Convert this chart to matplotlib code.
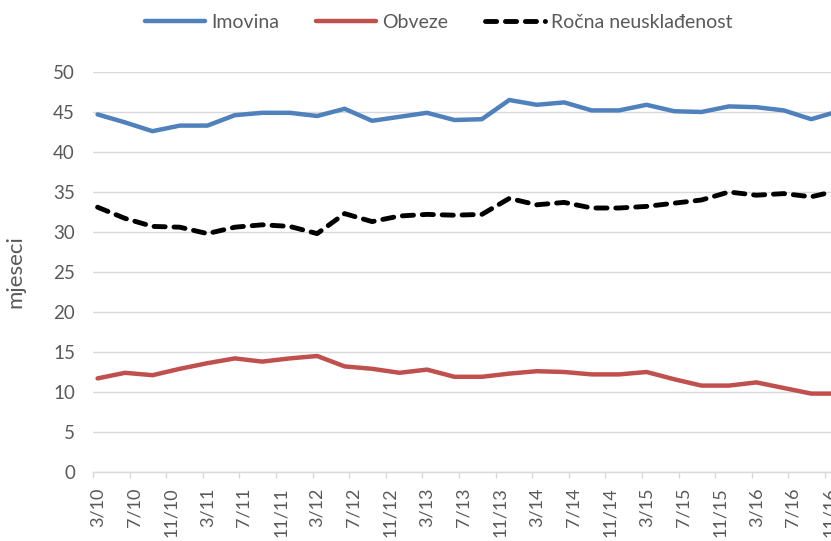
import matplotlib
matplotlib.use('Agg')
import matplotlib.pyplot as plt
from matplotlib.ticker import FixedLocator

plt.rcParams['font.family'] = ['Lato', 'DejaVu Sans']

# quarterly observations, 3/10 .. 12/16
quarters = ['3/10', '6/10', '9/10', '12/10', '3/11', '6/11', '9/11', '12/11',
            '3/12', '6/12', '9/12', '12/12', '3/13', '6/13', '9/13', '12/13',
            '3/14', '6/14', '9/14', '12/14', '3/15', '6/15', '9/15', '12/15',
            '3/16', '6/16', '9/16', '12/16']
imovina = [44.7, 43.7, 42.6, 43.3, 43.3, 44.6, 44.9, 44.9, 44.5, 45.4, 43.9, 44.4, 44.9, 44.0,
           44.1, 46.5, 45.9, 46.2, 45.2, 45.2, 45.9, 45.1, 45.0, 45.7, 45.6, 45.2, 44.1, 45.1]
obveze = [11.7, 12.4, 12.1, 12.9, 13.6, 14.2, 13.8, 14.2, 14.5, 13.2, 12.9, 12.4, 12.8, 11.9,
          11.9, 12.3, 12.6, 12.5, 12.2, 12.2, 12.5, 11.6, 10.8, 10.8, 11.2, 10.5, 9.8, 9.8]
rocna = [33.1, 31.7, 30.7, 30.6, 29.8, 30.6, 30.9, 30.7, 29.8, 32.3, 31.3, 32.0, 32.2, 32.1,
         32.2, 34.2, 33.4, 33.7, 33.0, 33.0, 33.2, 33.6, 34.0, 35.0, 34.6, 34.8, 34.4, 35.2]

# axis labels every 4 months
tick_labels = ['3/10', '7/10', '11/10', '3/11', '7/11', '11/11', '3/12', '7/12', '11/12',
               '3/13', '7/13', '11/13', '3/14', '7/14', '11/14', '3/15', '7/15', '11/15',
               '3/16', '7/16', '11/16']


def month_index(lbl):
    m, y = lbl.split('/')
    return (int(y) - 10) * 12 + int(m) - 3


x = [month_index(q) + 0.5 for q in quarters]
tick_pos = [month_index(t) for t in tick_labels]

fig = plt.figure(figsize=(8.31, 5.41), dpi=100)
ax = fig.add_axes([93 / 831, 69 / 541, 738 / 831, 400 / 541])

grey = '#595959'
ax.plot(x, imovina, color='#4F81BD', lw=3.2, label='Imovina', solid_capstyle='round')
ax.plot(x, obveze, color='#C0504D', lw=3.2, label='Obveze', solid_capstyle='round')
ax.plot(x, rocna, color='black', lw=3.5, dashes=(2.3, 1.8), dash_capstyle='round',
        label='Ročna neusklađenost')

ax.set_xlim(0, 80.66)
ax.set_ylim(0, 50)
ax.set_yticks(range(0, 51, 5))
ax.grid(axis='y', color='#D9D9D9', lw=1)
ax.set_axisbelow(True)
for s in ['top', 'right', 'left']:
    ax.spines[s].set_visible(False)
ax.spines['bottom'].set_color('#D9D9D9')
ax.spines['bottom'].set_linewidth(1)

ax.set_xticks([p + 0.5 for p in tick_pos])
ax.set_xticklabels(tick_labels, rotation=90, fontsize=13, color=grey)
ax.xaxis.set_minor_locator(FixedLocator(tick_pos))
ax.tick_params(axis='x', which='major', length=0, pad=11)
ax.tick_params(axis='x', which='minor', length=4.5, color='#D9D9D9', width=1)
ax.tick_params(axis='y', length=0, pad=13, labelsize=13.5, labelcolor=grey)

ax.set_ylabel('mjeseci', fontsize=16, color=grey)
ax.yaxis.set_label_coords(-0.092, 0.5)

fig.legend(loc='center', bbox_to_anchor=(0.528, 0.959), ncol=3, frameon=False,
           fontsize=14, labelcolor=grey, handlelength=3.1, handletextpad=0.3,
           columnspacing=1.9)

fig.savefig('out.png', dpi=100)
